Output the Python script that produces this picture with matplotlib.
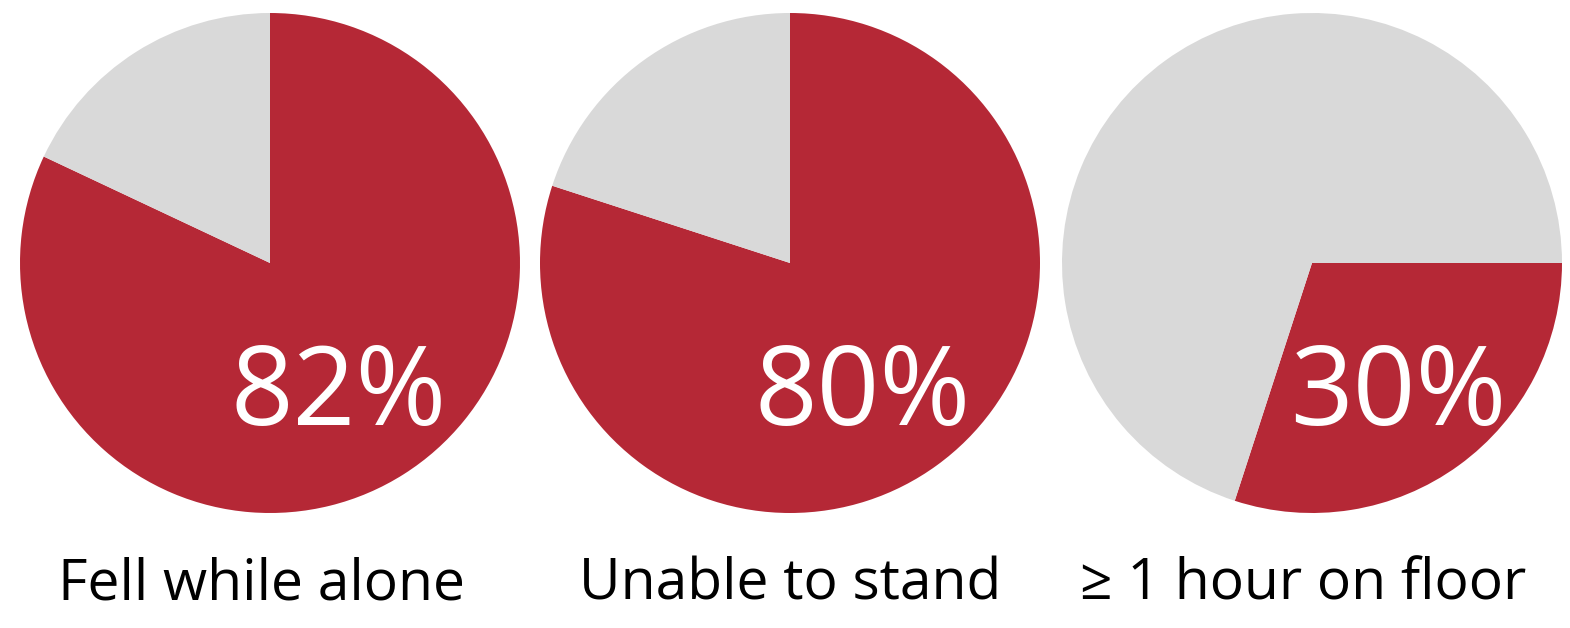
import matplotlib.pyplot as plt

labels = ['Fell while alone', 'Unable to stand', '≥ 1 hour on floor']
percents = [82, 80, 30]
start_angles = [90, 90, 0]

red = '#b52836'
grey = '#d9d9d9'

W, H = 1570, 628
fig = plt.figure(figsize=(W / 100, H / 100), dpi=100)

# pie centres in pixels (from top-left), radius in pixels
centres = [(270, 263), (790, 263), (1312, 263)]
r = 250
label_x = [262, 790, 1303]
# horizontal offset of the percentage text from the pie centre, in radii
text_dx = [0.276, 0.292, 0.345]

plt.rcParams['font.family'] = ['Open Sans', 'DejaVu Sans']

for (cx, cy), p, sa, lab, lx, dx in zip(centres, percents, start_angles,
                                        labels, label_x, text_dx):
    ax = fig.add_axes([(cx - r) / W, (H - cy - r) / H, 2 * r / W, 2 * r / H])
    ax.pie([p, 100 - p], colors=[red, grey], startangle=sa, counterclock=False,
           radius=1, wedgeprops=dict(linewidth=0))
    ax.set_xlim(-1, 1)
    ax.set_ylim(-1, 1)
    ax.set_aspect('auto')
    ax.axis('off')
    ax.text(dx, -0.65, f'{p}%', color='white', fontsize=79,
            ha='center', va='baseline')
    fig.text(lx / W, (H - 600) / H, lab, fontsize=41, color='black',
             ha='center', va='baseline')

fig.savefig('out.png', dpi=100)
